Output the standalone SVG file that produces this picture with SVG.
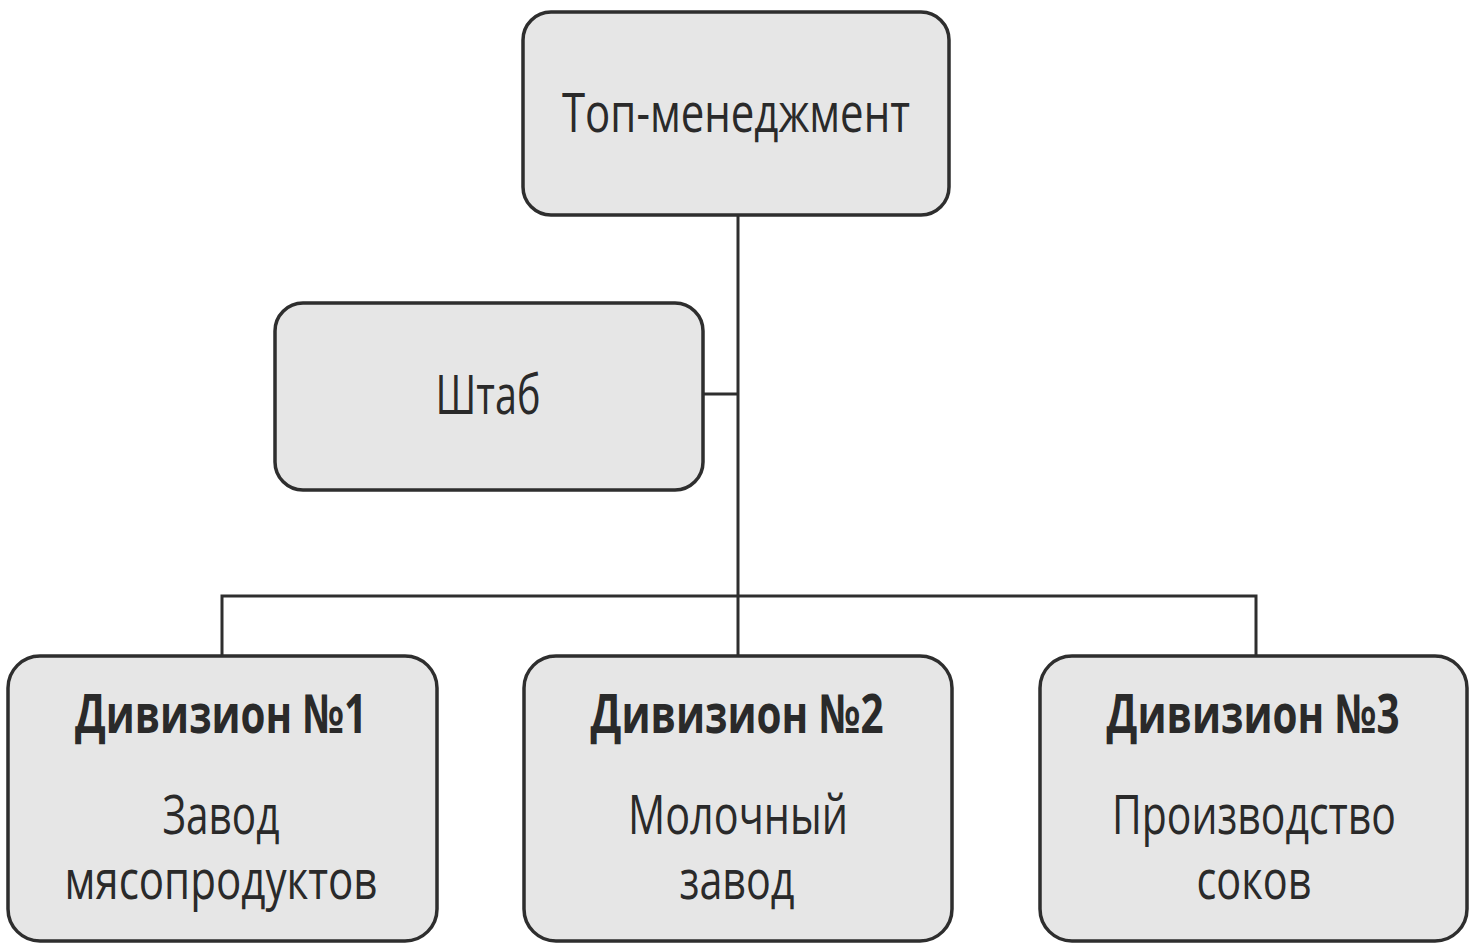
<svg xmlns="http://www.w3.org/2000/svg" width="1470" height="945" viewBox="0 0 1470 945">
<style>
.box{fill:#e6e6e6;stroke:#2e2e2e;stroke-width:3.5}
.ln{fill:none;stroke:#2e2e2e;stroke-width:3}
text{font-family:"Open Sans","Noto Sans","Liberation Sans",sans-serif;fill:#2a2a2a;text-anchor:middle}
.t{font-size:54px}
.b{font-size:54px;font-weight:bold}
</style>
<rect width="1470" height="945" fill="#ffffff"/>
<g id="connectors">
<path class="ln" d="M738 215 V597"/>
<path class="ln" d="M703 394 H738"/>
<path class="ln" d="M222 655 V596 H1256 V655"/>
<path class="ln" d="M738 596 V655"/>
</g>
<g id="top">
<rect class="box" x="523" y="12" width="426" height="203" rx="28"/>
<text class="t" x="736" y="132" textLength="348" lengthAdjust="spacingAndGlyphs">Топ-менеджмент</text>
</g>
<g id="shtab">
<rect class="box" x="275" y="303" width="428" height="187" rx="28"/>
<text class="t" x="488" y="414" textLength="105" lengthAdjust="spacingAndGlyphs">Штаб</text>
</g>
<g id="div1">
<rect class="box" x="8" y="656" width="429" height="285" rx="32"/>
<text class="b" x="221" y="733" textLength="292" lengthAdjust="spacingAndGlyphs">Дивизион №1</text>
<text class="t" x="221" y="834" textLength="117" lengthAdjust="spacingAndGlyphs">Завод</text>
<text class="t" x="221" y="899" textLength="313" lengthAdjust="spacingAndGlyphs">мясопродуктов</text>
</g>
<g id="div2">
<rect class="box" x="524" y="656" width="428" height="285" rx="32"/>
<text class="b" x="737" y="733" textLength="293" lengthAdjust="spacingAndGlyphs">Дивизион №2</text>
<text class="t" x="738" y="834" textLength="220" lengthAdjust="spacingAndGlyphs">Молочный</text>
<text class="t" x="737" y="899" textLength="115" lengthAdjust="spacingAndGlyphs">завод</text>
</g>
<g id="div3">
<rect class="box" x="1040" y="656" width="427" height="285" rx="32"/>
<text class="b" x="1253" y="733" textLength="293" lengthAdjust="spacingAndGlyphs">Дивизион №3</text>
<text class="t" x="1254" y="834" textLength="284" lengthAdjust="spacingAndGlyphs">Производство</text>
<text class="t" x="1254" y="899" textLength="115" lengthAdjust="spacingAndGlyphs">соков</text>
</g>
</svg>
